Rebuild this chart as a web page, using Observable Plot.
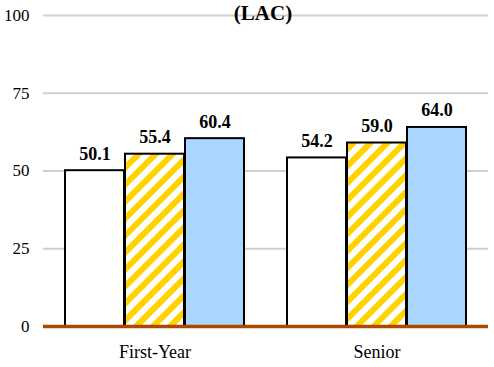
<!DOCTYPE html>
<html>
<head>
<meta charset="utf-8">
<script src="https://cdn.jsdelivr.net/npm/d3@7"></script>
<script src="https://cdn.jsdelivr.net/npm/@observablehq/plot@0.6"></script>
<style>
  html, body { margin: 0; padding: 0; background: #fff; }
  #chart svg, #chart svg text { font-family: "Liberation Serif", "Times New Roman", serif !important; }
  #chart g[aria-label^="x-axis"] text { font-size: 18px; }
  #chart g[aria-label^="y-axis"] text { font-size: 17px; }
</style>
</head>
<body>
<div id="chart"></div>
<script>
const categories = ["First-Year", "Senior"];
const seriesNames = ["Institution", "LAC", "Peers"];
const seriesA = [50.1, 54.2];
const seriesB = [55.4, 59.0];
const seriesC = [60.4, 64.0];
const yTicks = [0, 25, 50, 75, 100];
const titleText = "(LAC)";

const seriesValues = [seriesA, seriesB, seriesC];
const fills = ["#ffffff", "url(#hatch)", "#aad5ff"];

const data = [];
seriesValues.forEach((vals, s) => {
  vals.forEach((v, c) => data.push({category: categories[c], series: seriesNames[s], idx: s, value: v}));
});

const barW = 60;
const serif = "Liberation Serif";
const marks = [
  Plot.ruleY(yTicks.filter(t => t > 0), {stroke: "#d0d0d0", strokeWidth: 2})
];
seriesNames.forEach((name, s) => {
  const sub = data.filter(d => d.idx === s);
  marks.push(Plot.barY(sub, {
    x: "category", y: "value",
    fill: fills[s], stroke: "#000", strokeWidth: 2,
    insetLeft: s * barW, insetRight: (2 - s) * barW
  }));
});
marks.push(Plot.ruleY([0], {stroke: "#a84a00", strokeWidth: 3.5}));
seriesNames.forEach((name, s) => {
  const sub = data.filter(d => d.idx === s);
  marks.push(Plot.text(sub, {
    x: "category", y: "value", text: d => d.value.toFixed(1),
    dx: (s - 1) * barW, dy: -11, lineAnchor: "bottom",
    fontSize: 18, fontWeight: "bold", fontFamily: serif, fill: "#000"
  }));
});
marks.push(Plot.text([titleText], {
  frameAnchor: "top", text: d => d, lineAnchor: "bottom", dy: 4, dx: -3,
  fontSize: 21, fontWeight: "bold", fontFamily: serif, fill: "#000"
}));

const svg = Plot.plot({
  width: 494,
  height: 367,
  marginTop: 15,
  marginBottom: 41,
  marginLeft: 43,
  marginRight: 6,
  style: "font-family: 'Liberation Serif', serif; color: #000; background: #fff;",
  x: {domain: categories, paddingInner: 0.193, paddingOuter: 0.096, label: null, tickSize: 0, tickPadding: 19},
  y: {domain: [0, 100], ticks: yTicks, label: null, tickSize: 0, tickPadding: 14},
  marks
});

d3.select(svg).insert("defs", ":first-child").html(
  '<pattern id="hatch" patternUnits="userSpaceOnUse" width="12" height="12" patternTransform="rotate(45)">' +
  '<rect width="12" height="12" fill="#ffffff"/>' +
  '<rect width="6" height="12" fill="#ffd200"/>' +
  '</pattern>'
);

document.getElementById("chart").appendChild(svg);
</script>
</body>
</html>
